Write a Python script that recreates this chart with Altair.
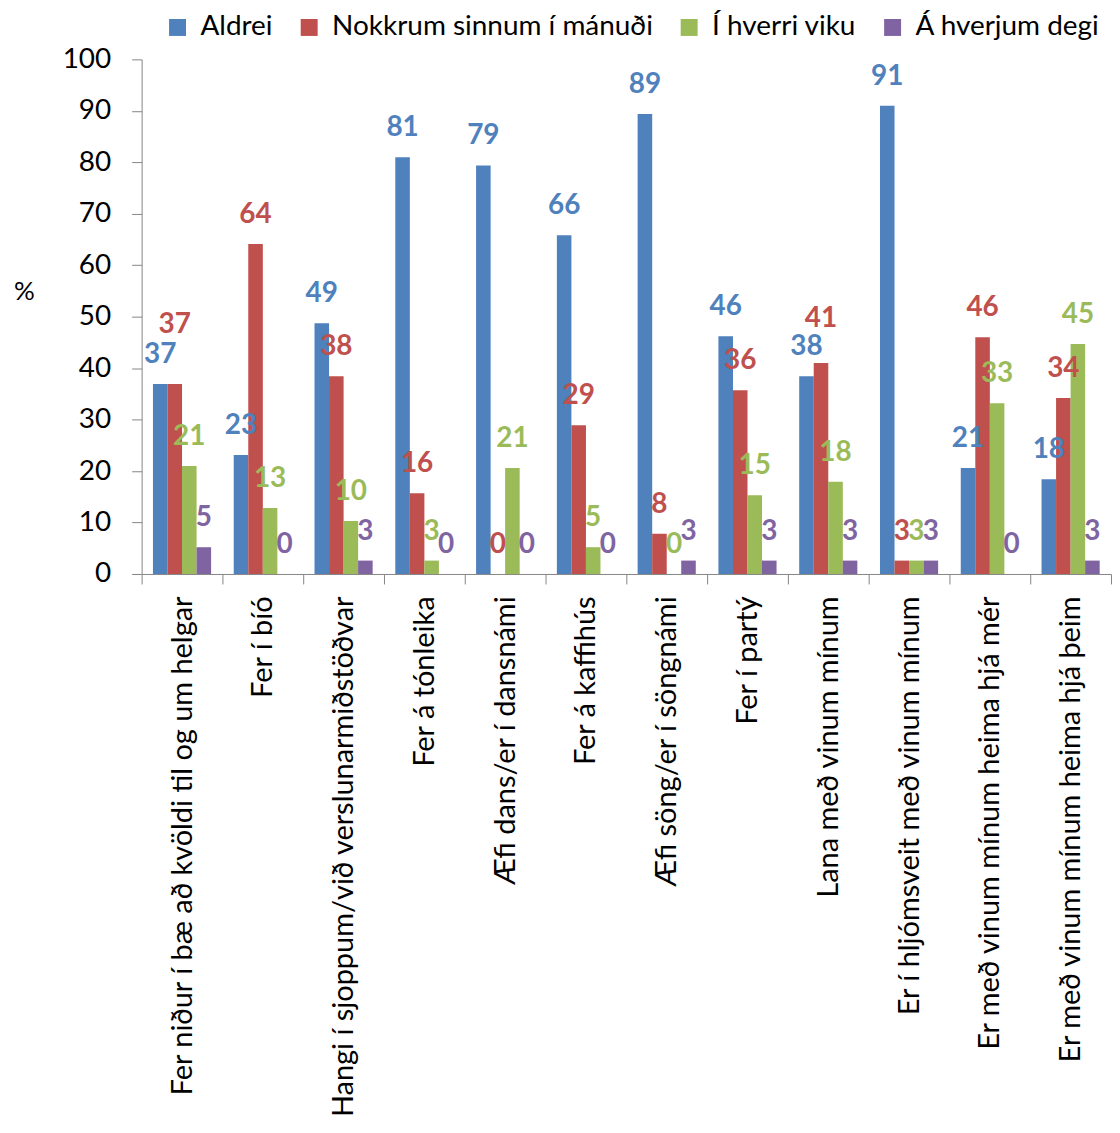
import altair as alt
import pandas as pd

categories = [
    "Fer niður í bæ að kvöldi til og um helgar",
    "Fer í bíó",
    "Hangi í sjoppum/við verslunarmiðstöðvar",
    "Fer á tónleika",
    "Æfi dans/er í dansnámi",
    "Fer á kaffihús",
    "Æfi söng/er í söngnámi",
    "Fer í partý",
    "Lana með vinum mínum",
    "Er í hljómsveit með vinum mínum",
    "Er með vinum mínum heima hjá mér",
    "Er með vinum mínum heima hjá þeim",
]
series = ["Aldrei", "Nokkrum sinnum í mánuði", "Í hverri viku", "Á hverjum degi"]
colors = ["#4F81BD", "#C0504D", "#9BBB59", "#8064A2"]

aldrei = [36.9, 23.1, 48.7, 81.0, 79.4, 65.8, 89.4, 46.2, 38.4, 91.0, 20.6, 18.4]
nokkrum = [36.9, 64.1, 38.4, 15.7, 0.0, 28.9, 7.8, 35.7, 41.0, 2.6, 46.0, 34.2]
viku = [21.0, 12.8, 10.3, 2.6, 20.6, 5.2, 0.0, 15.3, 17.9, 2.6, 33.2, 44.7]
degi = [5.2, 0.0, 2.6, 0.0, 0.0, 0.0, 2.6, 2.6, 2.6, 2.6, 0.0, 2.6]

rows = []
for s, vals in zip(series, [aldrei, nokkrum, viku, degi]):
    for c, v in zip(categories, vals):
        rows.append({"cat": c, "series": s, "value": v})
df = pd.DataFrame(rows)

FONT = "Lato"
GREY = "#868686"

x_enc = alt.X(
    "cat:N",
    sort=categories,
    title=None,
    scale=alt.Scale(paddingInner=0, paddingOuter=0),
    axis=alt.Axis(
        labelAngle=-90,
        labelFontSize=29,
        labelFont=FONT,
        labelColor="#000000",
        labelLimit=0,
        labelPadding=12,
        tickSize=10,
        tickColor=GREY,
        domainColor=GREY,
        tickBand="extent",
        grid=False,
    ),
)
xoff_enc = alt.XOffset(
    "series:N", sort=series, scale=alt.Scale(paddingInner=0, paddingOuter=0.78)
)
y_enc = alt.Y(
    "value:Q",
    title="%",
    scale=alt.Scale(domain=[0, 100]),
    axis=alt.Axis(
        values=list(range(0, 101, 10)),
        labelFontSize=28,
        labelFont=FONT,
        labelColor="#000000",
        labelPadding=21,
        tickSize=10,
        tickColor=GREY,
        domainColor=GREY,
        grid=False,
        titleAngle=0,
        titleFontSize=26,
        titleFont=FONT,
        titleFontWeight="normal",
        titleColor="#000000",
        titleX=-118,
        titleY=233,
        titleAlign="center",
        titleBaseline="middle",
    ),
)
color_enc = alt.Color(
    "series:N",
    sort=series,
    scale=alt.Scale(domain=series, range=colors),
    legend=alt.Legend(
        title=None,
        orient="none",
        legendX=22,
        legendY=-46,
        direction="horizontal",
        columns=4,
        symbolType="square",
        symbolSize=289,
        symbolStrokeWidth=0,
        labelFontSize=28,
        labelFont=FONT,
        labelColor="#000000",
        labelOffset=9,
        columnPadding=22,
        labelLimit=0,
    ),
)

base = alt.Chart(df)

bars = base.mark_bar(size=14.6).encode(
    x=x_enc, xOffset=xoff_enc, y=y_enc, color=color_enc
)

text_common = dict(
    x=alt.X("cat:N", sort=categories),
    xOffset=alt.XOffset("series:N", sort=series),
    y=alt.Y("value:Q"),
    text=alt.Text("value:Q", format=".0f"),
    color=alt.Color("series:N", sort=series, legend=None),
)

is_c1_red = (alt.datum.cat == categories[0]) & (alt.datum.series == series[1])
is_c9_red = (alt.datum.cat == categories[8]) & (alt.datum.series == series[1])

LBL = dict(font=FONT, fontWeight="bold", fontSize=28, baseline="middle")

labels_main = base.transform_filter(~(is_c1_red | is_c9_red)).mark_text(
    dy=-29, **LBL
).encode(**text_common)

labels_c1 = base.transform_filter(is_c1_red).mark_text(
    dy=-59, **LBL
).encode(**text_common)

labels_c9 = base.transform_filter(is_c9_red).mark_text(
    dy=-44, **LBL
).encode(**text_common)

chart = (
    alt.layer(bars, labels_main, labels_c1, labels_c9)
    .properties(
        width=972,
        height=516,
        padding={"left": 5, "top": 4, "right": 0, "bottom": 0},
        background="#FFFFFF",
    )
    .configure_view(stroke=None)
)

chart.save("out.html", embed_options={"renderer": "svg", "actions": False})
